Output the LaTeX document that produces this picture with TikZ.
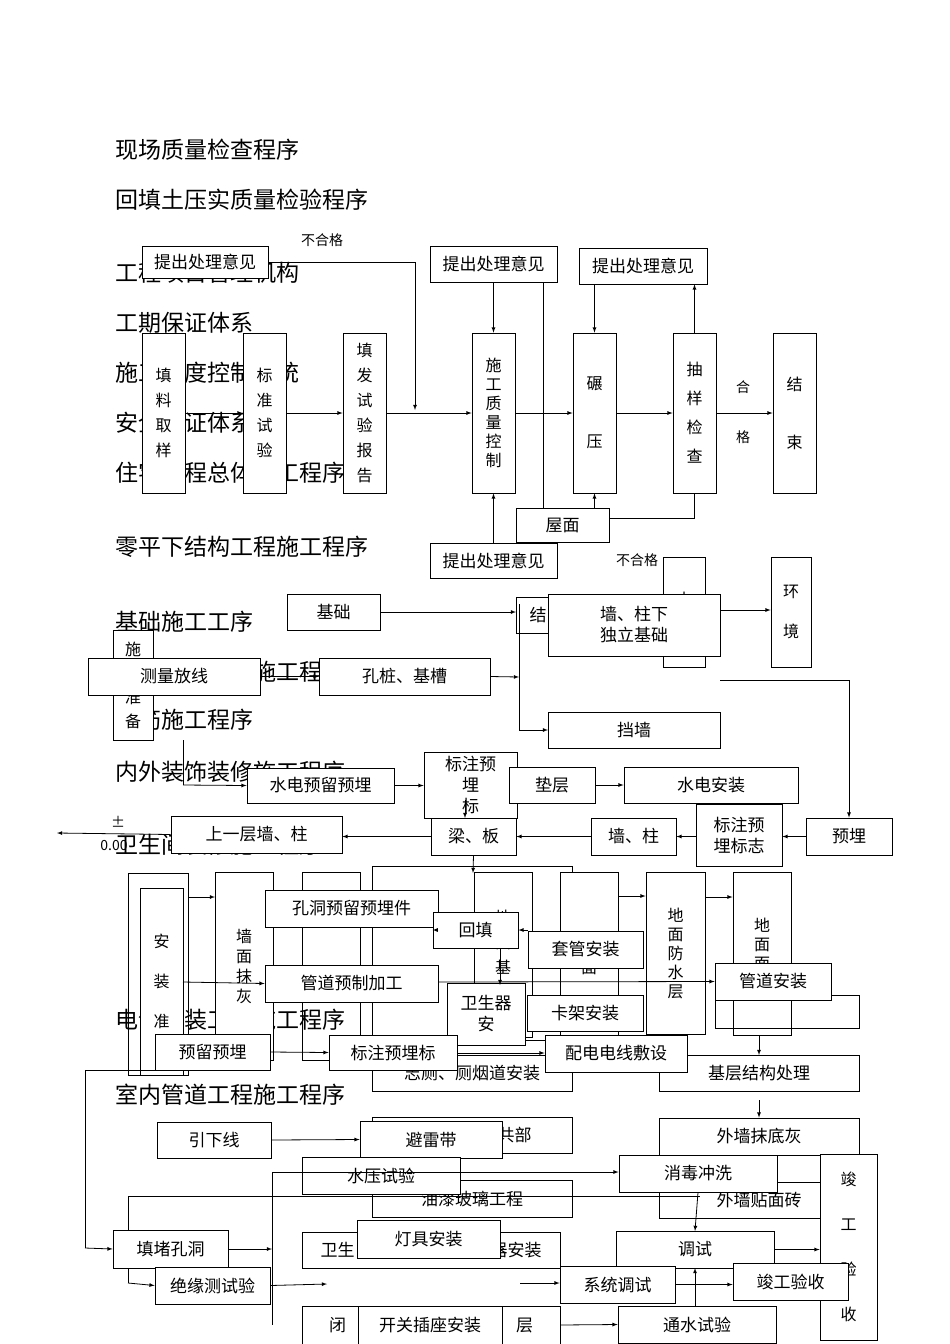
\documentclass[tikz,border=0pt]{standalone}
\usepackage{fontspec}
\setmainfont{Noto Sans CJK SC}
\begin{document}
\begin{tikzpicture}[x=1pt,y=-1pt,
  bx/.style={draw,fill=white,inner sep=0pt,align=center,font=\fontsize{17}{21}\selectfont},
  vb/.style={bx,font=\fontsize{16}{25}\selectfont},
  hd/.style={anchor=west,inner sep=0pt,font=\fontsize{23}{25}\selectfont},
  lb/.style={inner sep=0pt,font=\fontsize{14}{16}\selectfont},
  ar/.style={-latex},
  ln/.style={line width=0.8pt}]
\useasboundingbox (0,0) rectangle (950,1344);
\newcommand\bx[7][]{\node[bx,#1,minimum width={(#5-#3)*1pt},minimum height={(#6-#4)*1pt}] (#2) at ({(#3+#5)/2},{(#4+#6)/2}) {#7};}
\begin{scope}[ln]
% headings
\node[hd] (h1) at (115,150) {现场质量检查程序};
\node[hd] (h2) at (115,200) {回填土压实质量检验程序};
\node[hd] (h3) at (115,273) {工程项目管理机构};
\node[hd] (h4) at (115,323) {工期保证体系};
\node[hd] (h5) at (115,373) {施工进度控制系统};
\node[hd] (h6) at (115,423) {安全保证体系};
\node[hd] (h7) at (115,473) {住宅工程总体施工程序};
\node[hd] (h8) at (115,547) {零平下结构工程施工程序};
\node[hd] (h9) at (115,622) {基础施工工序};
\node[hd] (h10) at (115,672) {零平以上结构施工程序};
\node[hd] (h11) at (115,720) {钢筋施工程序};
\node[hd] (h12) at (115,772) {内外装饰装修施工程序};
\node[hd] (h13) at (115,845) {卫生间装修施工程序};
\node[hd] (h14) at (115,1020) {电气安装工程施工程序};
\node[hd] (h15) at (115,1095) {室内管道工程施工程序};
% top flowchart
\bx{p1}{142}{246}{268}{278}{提出处理意见}
\node[lb] (ng1) at (322,240) {不合格};
\bx[vb]{q1}{142}{333}{185}{493}{填\\料\\取\\样}
\bx[vb]{q2}{243}{333}{286}{493}{标\\准\\试\\验}
\bx[vb]{q3}{343}{333}{386}{493}{填\\发\\试\\验\\报\\告}
\bx[vb,font=\fontsize{16}{19}\selectfont]{q4}{472}{333}{515}{493}{施\\工\\质\\量\\控\\制}
\bx[vb,font=\fontsize{16}{58}\selectfont]{q5}{573}{333}{616}{493}{碾\\压}
\bx[vb,font=\fontsize{16}{29}\selectfont]{q6}{673}{333}{716}{493}{抽\\样\\检\\查}
\bx[vb,font=\fontsize{16}{58}\selectfont]{q7}{773}{333}{816}{493}{结\\束}
\node[lb] (hg1) at (743,387) {合};
\node[lb] (hg2) at (743,437) {格};
\bx{p2}{430}{246}{557}{282}{提出处理意见}
\bx{p3}{579}{248}{707}{284}{提出处理意见}
\draw (543,282) -- (543,508);
\draw (694,493) -- (694,518) -- (609,518);
\bx{wm}{516}{508}{609}{542}{屋面}
\bx{p4}{430}{543}{557}{578}{提出处理意见}
\node[lb] (ng2) at (637,560) {不合格};
\draw[ar] (q1.east) -- (q2.west);
\draw[ar] (q2.east) -- (q3.west);
\draw[ar] (q3.east) -- (q4.west);
\draw[ar] (q4.east) -- (q5.west);
\draw[ar] (q5.east) -- (q6.west);
\draw[ar] (q6.east) -- (q7.west);
\draw[ar] (p1.east) -| (415,410);
\draw[ar] (p2.south) -- (p2.south |- q4.north);
\draw[ar] (p3.south -| q5.north) -- (q5.north);
\draw[ar] (q6.north) -- (q6.north |- p3.south);
\draw[ar] (p4.north) -- (p4.north |- q4.south);
\draw[ar] (q5.south |- wm.north) -- (q5.south);
% middle
\bx{jc}{287}{594}{380}{630}{基础}
\bx[vb,font=\fontsize{16}{24}\selectfont]{zb}{113}{630}{153}{740}{施\\工\\准\\备}
\bx[vb]{nw}{663}{557}{705}{667}{内\\外}
\bx[vb,font=\fontsize{16}{40}\selectfont]{hj}{771}{557}{811}{667}{环\\境}
\bx{hid}{516}{597}{560}{633}{结}
\draw[ar] (jc.east) -- (516,612);
\draw (519,604) -- (519,730);
\draw[ar] (519,730) -- (548,730);
\bx{clfx}{88}{658}{260}{695}{测量放线}
\bx{kz}{319}{658}{490}{695}{孔桩、基槽}
\bx{qz}{548}{594}{720}{656}{墙、柱下\\独立基础}
\bx{dq}{548}{712}{720}{748}{挡墙}
\draw[ar] (clfx.east) -- (kz.west);
\draw[ar] (kz.east) -- (519,677);
\draw[ar] (720,610) -- (hj.west |- 0,610);
\draw (720,680) -- (849,680);
\draw (183,740) -- (183,785);
\bx{sdyl}{247}{768}{394}{803}{水电预留预埋}
\bx{bzyl}{424}{752}{517}{818}{标注预\\埋\\标}
\bx{db}{509}{767}{595}{803}{垫层}
\bx{sdaz}{624}{767}{798}{803}{水电安装}
\bx{syc}{171}{816}{342}{853}{上一层墙、柱}
\bx{lbn}{431}{818}{516}{855}{梁、板}
\bx{qz2}{591}{818}{676}{855}{墙、柱}
\bx{bzbz}{696}{804}{782}{866}{标注预\\埋标志}
\bx{ym}{806}{818}{892}{855}{预埋}
\draw[ar] (183,785) -- (sdyl.west);
\draw[ar] (sdyl.east) -- (bzyl.west |- sdyl.east);
\draw[ar] (db.east) -- (sdaz.west |- db.east);
\draw[ar] (849,680) -- (ym.north);
\draw[ar] (ym.west) -- (bzbz.east |- ym.west);
\draw[ar] (bzbz.west |- qz2.east) -- (qz2.east);
\draw[ar] (qz2.west) -- (lbn.east);
\draw[ar] (lbn.west) -- (lbn.west -| syc.east);
\draw[ar] (465,800) -- (465,818);
\draw[ar] (syc.west) -- (57,833);
\node[lb] (pm) at (118,822) {±};
\node[lb,anchor=west] (zz) at (100,845) {0.00};
\draw[ar] (lbn.south) -- (473,873);
% lower (sanitary)
\draw (128,873) rectangle (188,1075);
\draw (302,872) rectangle (360,1060);
\draw (372,866) rectangle (572,1040);
\bx[vb,font=\fontsize{16}{40}\selectfont]{azz}{140}{888}{183}{1075}{安\\装\\准}
\bx[vb,font=\fontsize{16}{20}\selectfont]{qmmh}{215}{872}{273}{1060}{墙\\面\\抹\\灰}
\bx[vb]{dm1}{474}{872}{532}{1037}{地\\面\\基\\层}
\bx[vb]{dm2}{560}{872}{618}{1037}{地\\面}
\bx[vb,font=\fontsize{16}{19}\selectfont]{dmfs}{646}{872}{705}{1034}{地\\面\\防\\水\\层}
\bx[vb,font=\fontsize{16}{19}\selectfont]{dmmc}{733}{872}{791}{1035}{地\\面\\面\\层}
\draw (715,995) rectangle (859,1028);
\draw[ar] (188,897) -- (215,897);
\draw[ar] (618,896) -- (dmfs.west |- 0,896);
\draw[ar] (705,897) -- (dmmc.west |- 0,897);
\bx{kdyl}{265}{890}{438}{927}{孔洞预留预埋件}
\bx{ht}{433}{912}{518}{948}{回填}
\bx{tgaz}{528}{931}{643}{968}{套管安装}
\bx{gdyz}{265}{965}{438}{1002}{管道预制加工}
\bx{wsq}{447}{983}{525}{1045}{卫生器\\安}
\bx{kjaz}{527}{995}{643}{1031}{卡架安装}
\bx{gdaz}{715}{963}{831}{1000}{管道安装}
\draw[ar] (183,982) -- (gdyz.west);
\draw[ar] (kdyl.east |- ht.west) -- (ht.west);
\draw[ar] (tgaz.west |- ht.east) -- (ht.east);
\draw[ar] (438,982) -- (gdaz.west);
\draw[ar] (500,948) -- (500,985);
\draw[ar] (759,1035) -- (759,1055);
% electrical
\bx{ylyl}{155}{1034}{270}{1070}{预留预埋}
\bx{ycd}{372}{1055}{572}{1091}{志厕、厕烟道安装}
\bx{jcjg}{659}{1055}{859}{1091}{基层结构处理}
\bx{bzyl2}{329}{1035}{457}{1070}{标注预埋标}
\bx{pddx}{545}{1035}{687}{1072}{配电电线敷设}
\draw[ar] (ylyl.east) -- (bzyl2.west);
\draw[ar] (bzyl2.east |- 0,1053) -- (pddx.west |- 0,1053);
\draw (85,1070) -- (155,1070);
\draw (85,1070) -- (85,1248);
\bx{ggb}{372}{1117}{572}{1153}{\hspace*{5em}共部}
\bx{yxx}{157}{1122}{271}{1158}{引下线}
\bx{blz}{360}{1121}{502}{1158}{避雷带}
\bx{wqmd}{659}{1118}{859}{1155}{外墙抹底灰}
\bx{yq}{372}{1180}{572}{1217}{油漆玻璃工程}
\bx{wqtm}{659}{1182}{859}{1218}{外墙贴面砖}
\bx{syy}{302}{1157}{460}{1194}{水压试验}
\bx{xd}{619}{1155}{777}{1192}{消毒冲洗}
\bx[vb,font=\fontsize{16}{45}\selectfont]{jgys}{820}{1154}{877}{1340}{竣\\工\\验\\收}
\draw[ar] (yxx.east) -- (blz.west);
\draw[ar] (759,1100) -- (wqmd.north);
\draw[ar] (272,1172) -- (xd.west |- 0,1172);
\draw (302,1172) -- (272,1172) -- (272,1325);
\draw (128,1196) -- (700,1196);
\draw (128,1196) -- (128,1283);
\bx{wsqj}{302}{1232}{560}{1268}{卫生\hspace{8em}器安装}
\bx{tdkd}{113}{1230}{228}{1268}{填堵孔洞}
\bx{djaz}{357}{1220}{500}{1258}{灯具安装}
\bx{ts}{616}{1231}{774}{1268}{调试}
\bx{bi}{302}{1306}{560}{1344}{闭\hspace{10em}层}
\bx{jy}{155}{1267}{270}{1304}{绝缘测试验}
\bx{xtts}{560}{1266}{675}{1303}{系统调试}
\bx{jgys2}{733}{1263}{848}{1300}{竣工验收}
\bx{kgcz}{358}{1306}{502}{1344}{开关插座安装}
\bx{tsy}{618}{1306}{776}{1343}{通水试验}
\draw[ar] (85,1248) -- (tdkd.west);
\draw[ar] (tdkd.east) -- (272,1249);
\draw[ar] (128,1283) -- (jy.west);
\draw[ar] (jy.east) -- (327,1284);
\draw[ar] (xd.south) -- (ts.north |- 0,1231);
\draw[ar] (ts.east) -- (jgys.west |- ts.east);
\draw[ar] (xtts.east) -- (jgys2.west |- xtts.east);
\draw[ar] (tsy.north -| 695,0) -- (695,1268);
\draw[ar] (560,1325) -- (tsy.west);
\draw[ar] (520,1283) -- (xtts.west |- 0,1283);
\end{scope}
\end{tikzpicture}
\end{document}
